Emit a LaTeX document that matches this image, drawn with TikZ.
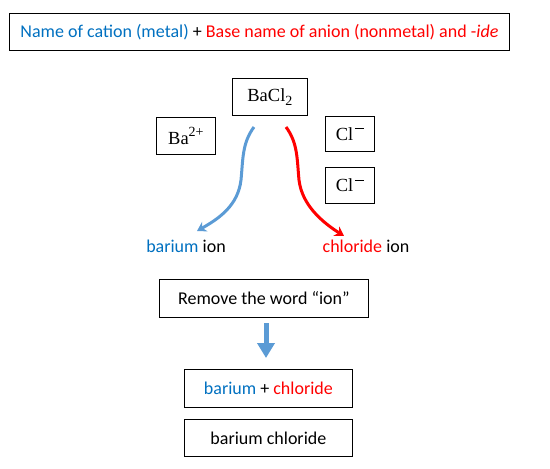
\documentclass[tikz,border=0pt]{standalone}
\usepackage{fontspec}
\setmainfont{Carlito}
\newfontfamily\chemfont{Liberation Serif}
\usetikzlibrary{arrows.meta}
\definecolor{cblue}{HTML}{0070C0}
\definecolor{cred}{HTML}{FF0000}
\definecolor{ablue}{HTML}{5B9BD5}
\newcommand{\chsup}[1]{\raisebox{0.42em}{\fontsize{14}{14}\selectfont #1}}
\newcommand{\chsub}[1]{\raisebox{-0.22em}{\fontsize{14}{14}\selectfont #1}}
\newcommand{\chminus}{\hspace{0.08em}\rule[0.62em]{0.5em}{0.7pt}}
\tikzset{
  box/.style={draw=black, line width=0.8pt, inner sep=0pt, anchor=north west},
  chem/.style={font=\chemfont\fontsize{18.5}{21}\selectfont},
  txt/.style={font=\fontsize{18}{22}\selectfont},
  curvearrow/.style={line width=3pt, -{Stealth[length=9pt,width=11pt]}},
}
\begin{document}
\begin{tikzpicture}[x=1pt,y=-1pt]
\useasboundingbox (0,0) rectangle (550,469);
\node[box, minimum width=500pt, minimum height=37pt, txt] (top) at (9,13)
  {\textcolor{cblue}{Name of cation (metal)} + \textcolor{cred}{Base name of anion (nonmetal) and -\textit{ide}}};
\node[box, minimum width=75pt, minimum height=37pt, chem] (bacl) at (232,78) {BaCl\chsub{2}};
\node[box, minimum width=59pt, minimum height=37pt, chem] (ba) at (156,117) {Ba\chsup{2+}};
\node[box, minimum width=49pt, minimum height=35pt, chem] (cl1) at (325,116) {Cl\chminus};
\node[box, minimum width=49pt, minimum height=36pt, chem] (cl2) at (325,167) {Cl\chminus};
\node[txt, inner sep=0pt] (bion) at (186,246) {\textcolor{cblue}{barium} ion};
\node[txt, inner sep=0pt] (clion) at (366,246) {\textcolor{cred}{chloride} ion};
\coordinate (bstart) at (254,127);
\coordinate (rstart) at (286,127);
\coordinate (bend) at (197,231);
\coordinate (rend) at (344,236);
\draw[curvearrow, ablue] (bstart) .. controls (242,143) and (243,160) .. (241,180)
  .. controls (238,205) and (220,218) .. (bend);
\draw[curvearrow, cred] (rstart) .. controls (298,143) and (297,160) .. (299,180)
  .. controls (302,205) and (322,222) .. (rend);
\node[box, minimum width=209pt, minimum height=38pt, txt] (remove) at (159,279) {Remove the word \textquotedblleft ion\textquotedblright};
\node[box, minimum width=168pt, minimum height=38pt, txt] (plus) at (184,369)
  {\textcolor{cblue}{barium} + \textcolor{cred}{chloride}};
\node[box, minimum width=168pt, minimum height=37pt, txt] (final) at (184,419) {barium chloride};
\coordinate (dtop) at (266,323);
\coordinate (dbot) at (266,358);
\draw[ablue, line width=5pt, -{Triangle[length=15pt,width=17pt]}] (dtop) -- (dbot);
\end{tikzpicture}
\end{document}
